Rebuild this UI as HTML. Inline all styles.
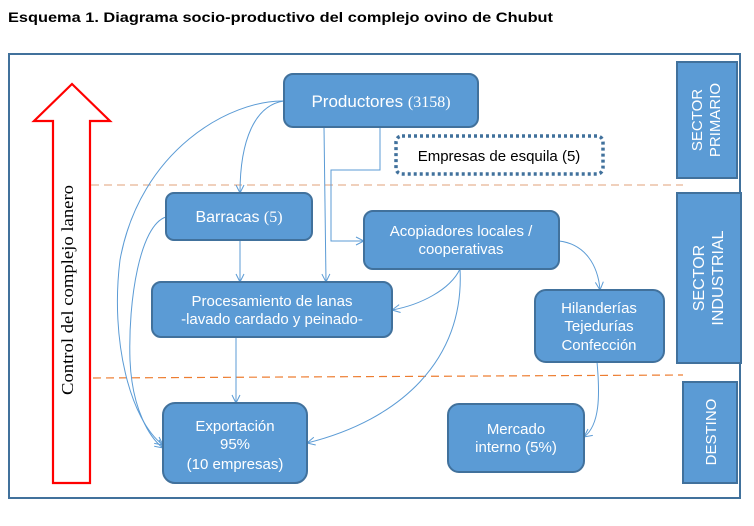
<!DOCTYPE html>
<html><head><meta charset="utf-8"><style>
body{margin:0;background:#fff;width:754px;height:526px;overflow:hidden}
svg{display:block}
text{font-family:"Liberation Sans",sans-serif}
</style></head><body>
<svg width="754" height="526" viewBox="0 0 754 526" xmlns="http://www.w3.org/2000/svg">
<defs>
<marker id="a" markerWidth="10" markerHeight="10" refX="9" refY="5" orient="auto" markerUnits="userSpaceOnUse"><path d="M1,1 L9,5 L1,9" fill="none" stroke="#5b9bd5" stroke-width="1"/></marker>
</defs>
<text x="8" y="22" font-size="14" font-weight="bold" fill="#000" textLength="545" lengthAdjust="spacingAndGlyphs">Esquema 1. Diagrama socio-productivo del complejo ovino de Chubut</text>
<rect x="9" y="54" width="731" height="444" fill="none" stroke="#41719c" stroke-width="2"/>
<path d="M72,84 L110,121 L90,121 L90,483 L53,483 L53,121 L34,121 Z" fill="#fff" stroke="#f00" stroke-width="2.2"/>
<text transform="translate(73,290) rotate(-90)" text-anchor="middle" style="font-family:'Liberation Serif',serif" font-size="17" fill="#000" textLength="210" lengthAdjust="spacingAndGlyphs">Control del complejo lanero</text>
<line x1="91" y1="185" x2="683" y2="185" stroke="#e2a07a" stroke-width="1" stroke-dasharray="8,5"/>
<line x1="93" y1="378" x2="683" y2="375" stroke="#ed7d31" stroke-width="1.2" stroke-dasharray="8,5"/>
<g fill="none" stroke="#5b9bd5" stroke-width="1">
<path d="M284,101 C230,100 140,150 120,260 C110,340 130,420 163,445" marker-end="url(#a)"/>
<path d="M284,101 C255,105 240,140 240,193" marker-end="url(#a)"/>
<path d="M324,127 L326,282" marker-end="url(#a)"/>
<path d="M380,127 L380,170 L331,170 L331,241 L364,241" marker-end="url(#a)"/>
<path d="M240,240 L240,282" marker-end="url(#a)"/>
<path d="M166,217 C140,225 128,300 130,360 C132,410 150,438 163,448" marker-end="url(#a)"/>
<path d="M460,269 C450,290 420,305 392,310" marker-end="url(#a)"/>
<path d="M460,269 C465,360 400,420 307,443" marker-end="url(#a)"/>
<path d="M559,241 C585,244 598,265 600,290" marker-end="url(#a)"/>
<path d="M236,337 L236,403" marker-end="url(#a)"/>
<path d="M597,362 C600,395 600,425 584,437" marker-end="url(#a)"/>
</g>
<g fill="#5b9bd5" stroke="#41719c" stroke-width="2">
<rect x="284" y="74" width="194" height="53" rx="9"/>
<rect x="166" y="193" width="146" height="47" rx="8"/>
<rect x="364" y="211" width="195" height="58" rx="9"/>
<rect x="152" y="282" width="240" height="55" rx="9"/>
<rect x="535" y="290" width="129" height="72" rx="11"/>
<rect x="163" y="403" width="144" height="80" rx="12"/>
<rect x="448" y="404" width="136" height="68" rx="11"/>
<rect x="677" y="62" width="60" height="116"/>
<rect x="677" y="193" width="64" height="170"/>
<rect x="683" y="382" width="54" height="101"/>
</g>
<rect x="396" y="136" width="207" height="38" rx="6" fill="none" stroke="#41719c" stroke-width="3.5" stroke-dasharray="3,3"/>
<g fill="#fff" font-size="14" text-anchor="middle">
<text x="381" y="107" font-size="17">Productores <tspan style="font-family:'Liberation Serif',serif" font-size="16">(3158)</tspan></text>
<text x="239" y="222" font-size="16">Barracas <tspan style="font-family:'Liberation Serif',serif">(5)</tspan></text>
<text x="461" y="236" font-size="15">Acopiadores locales /</text>
<text x="461" y="254" font-size="15">cooperativas</text>
<text x="272" y="306" font-size="15">Procesamiento de lanas</text>
<text x="272" y="324" font-size="15">-lavado cardado y peinado-</text>
<text x="599" y="313" font-size="15">Hilanderías</text>
<text x="599" y="331" font-size="15">Tejedurías</text>
<text x="599" y="350" font-size="15">Confección</text>
<text x="235" y="431" font-size="15">Exportación</text>
<text x="235" y="449" font-size="15">95%</text>
<text x="235" y="469" font-size="15">(10 empresas)</text>
<text x="516" y="434" font-size="15">Mercado</text>
<text x="516" y="452" font-size="15">interno (5%)</text>
<text transform="translate(702,120) rotate(-90)" font-size="15">SECTOR</text>
<text transform="translate(720,120) rotate(-90)" font-size="15">PRIMARIO</text>
<text transform="translate(704,278) rotate(-90)" font-size="16">SECTOR</text>
<text transform="translate(723,278) rotate(-90)" font-size="16">INDUSTRIAL</text>
<text transform="translate(716,432) rotate(-90)" font-size="15">DESTINO</text>
</g>
<text x="499" y="161" font-size="15" text-anchor="middle" fill="#000">Empresas de esquila (5)</text>
</svg>
</body></html>
